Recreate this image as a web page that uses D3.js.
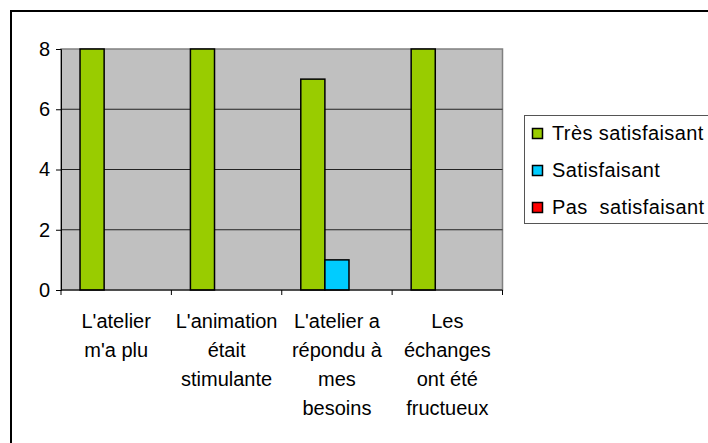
<!DOCTYPE html>
<html>
<head>
<meta charset="utf-8">
<script src="https://cdn.jsdelivr.net/npm/d3@7"></script>
<style>
body { margin: 0; background: #fff; }
text { font-family: "Liberation Sans", Arial, sans-serif; fill: #000; }
</style>
</head>
<body>
<script>
// categories (multi-line labels) and series
var categories = ["L'atelier m'a plu", "L'animation était stimulante", "L'atelier a répondu à mes besoins", "Les échanges ont été fructueux"];
var catLines = [["L'atelier", "m'a plu"], ["L'animation", "était", "stimulante"], ["L'atelier a", "répondu à", "mes", "besoins"], ["Les", "échanges", "ont été", "fructueux"]];
var seriesNames = ["Très satisfaisant", "Satisfaisant", "Pas  satisfaisant"];
var seriesColors = ["#99CC00", "#00CCFF", "#FF0000"];
var tres = [8, 8, 7, 8];
var satis = [0, 0, 1, 0];
var pas = [0, 0, 0, 0];
var yTicks = [0, 2, 4, 6, 8];

var W = 708, H = 443;
var plot = {left: 61, top: 49, right: 502.5, bottom: 290};

var svg = d3.select("body").append("svg")
	.attr("width", W)
	.attr("height", H);

// outer chart frame (runs past the right/bottom edges)
svg.append("rect")
	.attr("x", 11).attr("y", 11)
	.attr("width", 760).attr("height", 500)
	.attr("fill", "#fff")
	.attr("stroke", "#000")
	.attr("stroke-width", 2);

var x0 = d3.scaleBand()
	.domain(categories)
	.range([plot.left, plot.right])
	.paddingInner(0).paddingOuter(0);

var x1 = d3.scaleBand()
	.domain(seriesNames)
	.range([0, x0.bandwidth()])
	.paddingOuter(0.79).paddingInner(0);

var y = d3.scaleLinear()
	.domain([0, 8])
	.range([plot.bottom, plot.top]);

// plot background
svg.append("rect")
	.attr("x", plot.left).attr("y", plot.top)
	.attr("width", plot.right - plot.left)
	.attr("height", plot.bottom - plot.top)
	.attr("fill", "#C0C0C0")
	.attr("stroke", "#808080")
	.attr("stroke-width", 1.5);

// gridlines
svg.append("g")
	.selectAll("line")
	.data(yTicks.filter(d => d > 0 && d < 8))
	.enter().append("line")
	.attr("x1", plot.left).attr("x2", plot.right)
	.attr("y1", d => y(d)).attr("y2", d => y(d))
	.attr("stroke", "#222")
	.attr("stroke-width", 1);

// bars
var series = [tres, satis, pas];
series.forEach(function(vals, si) {
	var pts = vals.map((v, i) => ({cat: categories[i], v: v})).filter(d => d.v > 0);
	svg.append("g").selectAll("rect")
		.data(pts)
		.enter().append("rect")
		.attr("x", d => x0(d.cat) + x1(seriesNames[si]))
		.attr("width", x1.bandwidth())
		.attr("y", d => y(d.v))
		.attr("height", d => y(0) - y(d.v))
		.attr("fill", seriesColors[si])
		.attr("stroke", "#000")
		.attr("stroke-width", 1.5);
});

// y axis
var yAxis = svg.append("g")
	.attr("transform", "translate(" + plot.left + ",0)")
	.call(d3.axisLeft(y).tickValues(yTicks).tickSize(5).tickPadding(6).tickFormat(d3.format("d")));
yAxis.select(".domain").attr("stroke", "#000");
yAxis.selectAll(".tick line").attr("stroke", "#000");
yAxis.selectAll("text").style("font-size", "20px").attr("fill", "#000");

// x axis
var xAxis = svg.append("g")
	.attr("transform", "translate(0," + plot.bottom + ")");
xAxis.append("line")
	.attr("x1", plot.left).attr("x2", plot.right)
	.attr("stroke", "#000").attr("stroke-width", 1);
xAxis.selectAll("line.tk")
	.data(categories.map(c => x0(c)).concat([plot.right]))
	.enter().append("line")
	.attr("class", "tk")
	.attr("x1", d => d).attr("x2", d => d)
	.attr("y1", 0).attr("y2", 5)
	.attr("stroke", "#000");

// category labels, wrapped
categories.forEach(function(c, i) {
	var t = svg.append("text")
		.attr("text-anchor", "middle")
		.style("font-size", "20px");
	catLines[i].forEach(function(line, li) {
		t.append("tspan")
			.attr("x", x0(c) + x0.bandwidth() / 2)
			.attr("y", 328 + li * 29)
			.text(line);
	});
});

// legend
var lg = svg.append("g");
lg.append("rect")
	.attr("x", 524.5).attr("y", 115.5)
	.attr("width", 220).attr("height", 108)
	.attr("fill", "#fff")
	.attr("stroke", "#555")
	.attr("stroke-width", 1);
seriesNames.forEach(function(n, i) {
	var yy = 133 + i * 37;
	lg.append("rect")
		.attr("x", 532.5).attr("y", yy - 4.5)
		.attr("width", 10).attr("height", 10)
		.attr("fill", seriesColors[i])
		.attr("stroke", "#000")
		.attr("stroke-width", 1.5);
	lg.append("text")
		.attr("x", 552).attr("y", yy + 7)
		.style("font-size", "20px")
		.style("letter-spacing", "0.4px")
		.style("white-space", "pre")
		.text(n);
});
</script>
</body>
</html>
